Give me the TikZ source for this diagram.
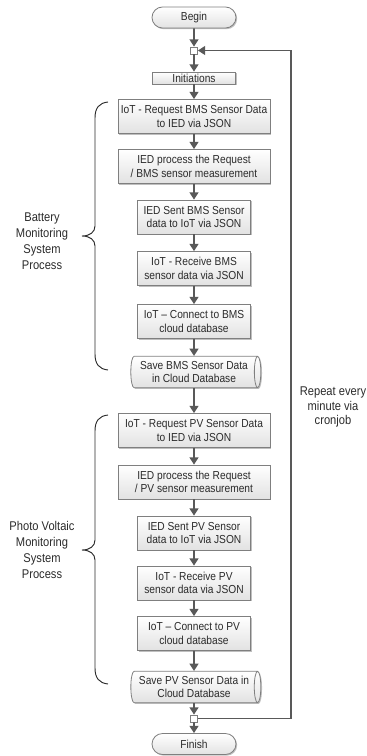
\documentclass[tikz,border=0pt]{standalone}
\usepackage{fontspec}
\setmainfont{Liberation Sans}[FakeStretch=0.88]
\usetikzlibrary{arrows.meta,shapes.geometric,shapes.misc,shadows}
\definecolor{edgegray}{HTML}{7F7F7F}
\definecolor{flowgray}{HTML}{595959}
\definecolor{boxlow}{HTML}{E2E2E2}
\definecolor{txtgray}{HTML}{2B2B2B}
\begin{document}
\begin{tikzpicture}[x=0.75pt, y=-0.75pt,
  box/.style={draw=edgegray, line width=0.6pt, top color=white, bottom color=boxlow,
    drop shadow={shadow xshift=0.9pt, shadow yshift=-0.9pt, fill=black, opacity=0.25},
    align=center, text=txtgray, inner sep=0pt, font=\fontsize{8.7}{10}\selectfont},
  wide/.style={box, minimum width=114pt, minimum height=25.5pt},
  narrow/.style={box, minimum width=84.75pt, minimum height=25.5pt},
  store/.style={box, cylinder, shape aspect=0.3, minimum width=23.5pt, minimum height=97.5pt},
  term/.style={box, rounded rectangle, minimum width=63pt, minimum height=15.75pt},
  jn/.style={draw=edgegray, fill=white, line width=0.6pt, minimum size=5.25pt, inner sep=0pt},
  flow/.style={draw=flowgray, line width=1.2pt, -{Triangle[width=6.6pt,length=5.4pt]}},
  lbl/.style={align=center, text=txtgray, font=\fontsize{9.5}{12}\selectfont}]
  \useasboundingbox (0,0) rectangle (367,756);
  % main column
  \node[term] (begin) at (194,17.5) {Begin};
  \node[jn] (j1) at (194,50.5) {};
  \node[box, minimum width=62.25pt, minimum height=9pt] (init) at (194,78) {Initiations};
  \node[wide] (b1) at (194,116.5) {IoT - Request BMS Sensor Data\\to IED via JSON};
  \node[wide] (b2) at (194,166.5) {IED process the Request\\/ BMS sensor measurement};
  \node[narrow] (b3) at (194,217) {IED Sent BMS Sensor\\data to IoT via JSON};
  \node[narrow] (b4) at (194,268.5) {IoT - Receive BMS\\sensor data via JSON};
  \node[narrow] (b5) at (194,321.5) {IoT -- Connect to BMS\\cloud database};
  \node[store] (sb) at (194,372) {Save BMS Sensor Data\\in Cloud Database};
  \node[wide] (p1) at (194,430.5) {IoT - Request PV Sensor Data\\to IED via JSON};
  \node[wide] (p2) at (194,482) {IED process the Request\\/ PV sensor measurement};
  \node[narrow] (p3) at (194,533) {IED Sent PV Sensor\\data to IoT via JSON};
  \node[narrow] (p4) at (194,583) {IoT - Receive PV\\sensor data via JSON};
  \node[narrow] (p5) at (194,633.5) {IoT -- Connect to PV\\cloud database};
  \node[store] (sp) at (194,687) {Save PV Sensor Data in\\Cloud Database};
  \node[jn] (j2) at (194,718.5) {};
  \node[term] (finish) at (194,744) {Finish};
  \foreach \a/\b in {begin/j1, j1/init, init/b1, b1/b2, b2/b3, b3/b4, b4/b5, b5/sb,
    sb/p1, p1/p2, p2/p3, p3/p4, p4/p5, p5/sp, sp/j2, j2/finish}
    \draw[flow] (\a) -- (\b);
  % repeat loop
  \coordinate (back) at (291,400);
  \draw[flow] (j2) -- (j2 -| back) -- (j1 -| back) -- (j1);
  \node[lbl, font=\fontsize{9.5}{11}\selectfont] (repeat) at (333,407) {Repeat every\\minute via\\cronjob};
  % braces
  \draw[line width=0.7pt, txtgray] (108,102) .. controls (99,103) and (95,108) .. (95,118) -- (95,226)
    .. controls (95,232) and (90,236) .. (82,236) .. controls (90,236) and (95,240) .. (95,246)
    -- (95,354) .. controls (95,364) and (99,369) .. (108,370);
  \draw[line width=0.7pt, txtgray] (108,415) .. controls (99,416) and (95,421) .. (95,431) -- (95,540)
    .. controls (95,546) and (90,550) .. (82,550) .. controls (90,550) and (95,554) .. (95,560)
    -- (95,668) .. controls (95,678) and (99,683) .. (108,684);
  \node[lbl] (bmsLabel) at (42,241) {Battery\\Monitoring\\System\\Process};
  \node[lbl] (pvLabel) at (42,550) {Photo Voltaic\\Monitoring\\System\\Process};
\end{tikzpicture}
\end{document}
